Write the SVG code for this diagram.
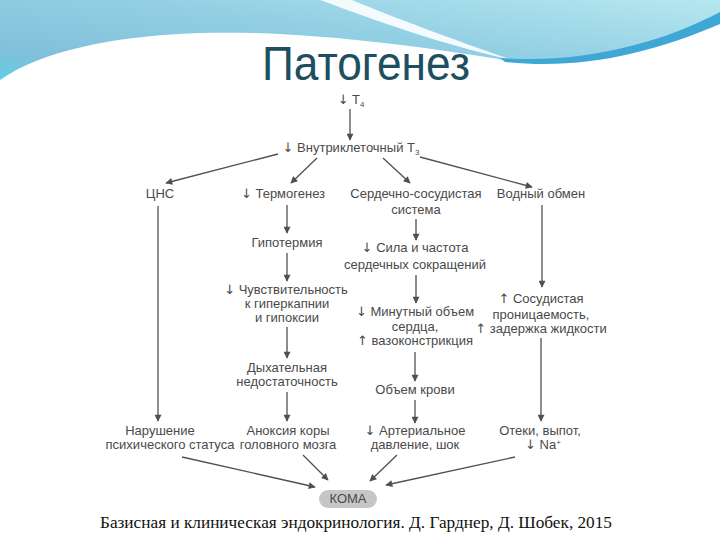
<svg xmlns="http://www.w3.org/2000/svg" width="720" height="540" viewBox="0 0 720 540">
<style>
.t{font-family:"Liberation Sans",Arial,sans-serif;font-size:13px;fill:#4a4a4a;text-anchor:middle}
.a{font-family:"DejaVu Sans",sans-serif;fill:#4a4a4a}
.c line,.c path{stroke:#505050;stroke-width:1.3;fill:none;marker-end:url(#ah)}
.title{font-family:"Liberation Sans",Arial,sans-serif;font-size:48px;fill:#1d4f60;text-anchor:middle}
.cap{font-family:"Liberation Serif","Times New Roman",serif;font-size:16px;fill:#111;text-anchor:middle}
</style>
<defs>
<linearGradient id="band" x1="0" y1="1" x2="1" y2="0">
<stop offset="0" stop-color="#4fd5ea"/>
<stop offset="0.25" stop-color="#80c0da"/>
<stop offset="0.6" stop-color="#93d0e4"/>
<stop offset="1" stop-color="#b6e7ef"/>
</linearGradient>
<marker id="ah" viewBox="0 0 10 10" refX="9" refY="5" markerWidth="9" markerHeight="7" markerUnits="userSpaceOnUse" orient="auto">
<path d="M0,0 L10,5 L0,10 Z" fill="#505050"/>
</marker>
</defs>
<rect width="720" height="540" fill="#ffffff"/>
<g id="header">
<rect x="0" y="0" width="720" height="100" fill="url(#band)"/>
<path d="M320,0 C380,22 440,44 512,60 C455,40 395,18 352,0 Z" fill="#f4fbfd"/>
<path d="M0,80 C40,52 110,36 200,33 C300,30 420,46 510,61 C570,68 650,50 720,24 L720,540 L0,540 Z" fill="#ffffff"/>
<path d="M500,58 C580,64 660,44 720,12 L720,24 C650,54 580,70 505,62 Z" fill="#3fa7d5"/>
<text class="title" x="366" y="80" textLength="208" lengthAdjust="spacingAndGlyphs">Патогенез</text>
</g>
<g class="c" id="connectors">
<line x1="350" y1="109" x2="350" y2="140"/>
<line x1="278" y1="154" x2="166" y2="183"/>
<line x1="317" y1="158" x2="291" y2="183"/>
<line x1="383" y1="158" x2="410" y2="183"/>
<line x1="420" y1="157" x2="532" y2="187"/>
<line x1="158" y1="206" x2="158" y2="421"/>
<line x1="287" y1="205" x2="287" y2="233"/>
<line x1="287" y1="253" x2="287" y2="281"/>
<line x1="287" y1="327" x2="287" y2="358"/>
<line x1="287" y1="392" x2="287" y2="421"/>
<line x1="416" y1="219" x2="416" y2="240"/>
<line x1="416" y1="275" x2="416" y2="303"/>
<line x1="415" y1="352" x2="415" y2="381"/>
<line x1="415" y1="400" x2="415" y2="423"/>
<line x1="542" y1="205" x2="542" y2="287"/>
<line x1="541" y1="338" x2="541" y2="421"/>
<line x1="182" y1="457" x2="315" y2="487"/>
<line x1="303" y1="455" x2="328" y2="480"/>
<line x1="397" y1="455" x2="370" y2="481"/>
<line x1="515" y1="457" x2="386" y2="485"/>
</g>
<g id="t4"><text class="t" x="351" y="104"><tspan class="a">↓</tspan> T<tspan font-size="8" dy="3">4</tspan></text></g>
<g id="t3"><text class="t" x="351" y="152"><tspan class="a">↓</tspan> Внутриклеточный T<tspan font-size="8" dy="3">3</tspan></text></g>
<g id="cns"><text class="t" x="160" y="198">ЦНС</text></g>
<g id="thermo"><text class="t" x="283" y="198"><tspan class="a">↓</tspan> Термогенез</text></g>
<g id="cardio"><text class="t" x="416" y="198">Сердечно-сосудистая</text><text class="t" x="416" y="214">система</text></g>
<g id="water"><text class="t" x="541" y="198">Водный обмен</text></g>
<g id="hypo"><text class="t" x="287" y="247">Гипотермия</text></g>
<g id="sens"><text class="t" x="286" y="294"><tspan class="a">↓</tspan> Чувствительность</text><text class="t" x="287" y="308">к гиперкапнии</text><text class="t" x="287" y="322">и гипоксии</text></g>
<g id="resp"><text class="t" x="287" y="372">Дыхательная</text><text class="t" x="287" y="386">недостаточность</text></g>
<g id="anox"><text class="t" x="288" y="435">Аноксия коры</text><text class="t" x="288" y="449">головного мозга</text></g>
<g id="force"><text class="t" x="415" y="252"><tspan class="a">↓</tspan> Сила и частота</text><text class="t" x="415" y="269">сердечных сокращений</text></g>
<g id="minute"><text class="t" x="415" y="316"><tspan class="a">↓</tspan> Минутный объем</text><text class="t" x="415" y="331">сердца,</text><text class="t" x="415" y="345"><tspan class="a">↑</tspan> вазоконстрикция</text></g>
<g id="blood"><text class="t" x="415" y="394">Объем крови</text></g>
<g id="pressure"><text class="t" x="415" y="435"><tspan class="a">↓</tspan> Артериальное</text><text class="t" x="415" y="449">давление, шок</text></g>
<g id="perm"><text class="t" x="541" y="303"><tspan class="a">↑</tspan> Сосудистая</text><text class="t" x="541" y="319">проницаемость,</text><text class="t" x="541" y="333"><tspan class="a">↑</tspan> задержка жидкости</text></g>
<g id="edema"><text class="t" x="540" y="435">Отеки, выпот,</text><text class="t" x="543" y="449"><tspan class="a">↓</tspan> Na<tspan font-size="8" dy="-4">+</tspan></text></g>
<g id="mental"><text class="t" x="160" y="435">Нарушение</text><text class="t" x="170" y="449">психического статуса</text></g>
<g id="coma"><rect x="319" y="490" width="58" height="18" rx="9" fill="#c6c6c6"/><text class="t" x="348" y="503" font-size="11">КОМА</text></g>
<g id="caption"><text class="cap" x="356" y="528" textLength="512" lengthAdjust="spacingAndGlyphs">Базисная и клиническая эндокринология. Д. Гарднер, Д. Шобек, 2015</text></g>
</svg>
